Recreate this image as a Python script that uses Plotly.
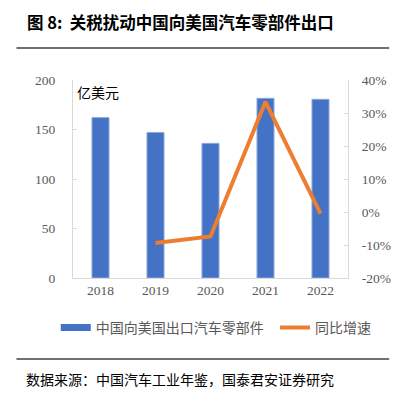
import plotly.graph_objects as go

years = ["2018", "2019", "2020", "2021", "2022"]
export_values = [162, 147, 136, 181.5, 180.5]
growth_years = ["2019", "2020", "2021", "2022"]
growth_pct = [-9.4, -7.4, 33.4, -0.5]

left_ticks = [0, 50, 100, 150, 200]
right_ticks = [-20, -10, 0, 10, 20, 30, 40]
right_labels = ["-20%", "-10%", "0%", "10%", "20%", "30%", "40%"]

BLUE = "#4472C4"
ORANGE = "#ED7D31"
GREY = "#595959"
SERIF = "Liberation Serif, Times New Roman, serif"
CJK = "Noto Sans CJK SC, sans-serif"

# page body has an 8px margin: figure drawn at (8,8)
OFF = 8
W, H = 403 - OFF, 394 - OFF
L, T, R, B = 73, 80, 360, 278  # plot area in window pixels
PW, PH = R - L, B - T


def px(xw):
    return (xw - L) / PW


def py(yw):
    return (B - yw) / PH


fig = go.Figure()
fig.add_trace(go.Bar(x=years, y=export_values, marker=dict(color=BLUE, line=dict(color="#8faadc", width=1)),
                     name="中国向美国出口汽车零部件", showlegend=False))
fig.add_trace(go.Scatter(x=growth_years, y=growth_pct, yaxis="y2", mode="lines",
                         line=dict(color=ORANGE, width=4), name="同比增速", showlegend=False))
# legend proxies
fig.add_trace(go.Scatter(x=[None], y=[None], mode="lines", line=dict(color=BLUE, width=7),
                         name="中国向美国出口汽车零部件\u00a0\u00a0"))
fig.add_trace(go.Scatter(x=[None], y=[None], mode="lines", line=dict(color=ORANGE, width=4),
                         name="同比增速"))

fig.update_layout(
    width=W, height=H,
    margin=dict(l=L - OFF, r=W - (R - OFF), t=T - OFF, b=H - (B - OFF)),
    paper_bgcolor="white", plot_bgcolor="white",
    bargap=0.69,
    xaxis=dict(type="category", showline=True, linecolor="#d9d9d9", linewidth=1,
               ticks="", tickfont=dict(family=SERIF, size=13.5, color=GREY), fixedrange=True),
    yaxis=dict(range=[0, 200], tickvals=left_ticks, showgrid=False, showline=True,
               linecolor="#d9d9d9", ticks="inside", ticklen=4, tickcolor="#d9d9d9",
               ticklabelstandoff=14,
               tickfont=dict(family=SERIF, size=13.5, color=GREY), zeroline=False),
    yaxis2=dict(range=[-20, 40], tickvals=right_ticks, ticktext=right_labels, overlaying="y",
                side="right", showgrid=False, showline=True, linecolor="#d9d9d9",
                ticks="inside", ticklen=4, tickcolor="#d9d9d9", ticklabelstandoff=10,
                tickfont=dict(family=SERIF, size=13.5, color=GREY), zeroline=False),
    legend=dict(orientation="h", x=px(55), y=py(312), xanchor="left", yanchor="top",
                font=dict(family=CJK, size=14, color=GREY), traceorder="normal",
                itemwidth=30),
    showlegend=True,
)

fig.add_annotation(text="亿美元", xref="paper", yref="paper", x=px(75), y=py(80),
                   xanchor="left", yanchor="top", showarrow=False,
                   font=dict(family=CJK, size=14, color="#000000"))
fig.add_annotation(text="<b>图 8:  关税扰动中国向美国汽车零部件出口</b>", xref="paper", yref="paper",
                   x=px(23), y=py(22), xanchor="left", yanchor="middle",
                   showarrow=False, font=dict(family=CJK, size=16.5, color="#000000"))
fig.add_annotation(text="数据来源：中国汽车工业年鉴，国泰君安证券研究", xref="paper", yref="paper",
                   x=px(22), y=py(379), xanchor="left", yanchor="middle",
                   showarrow=False, font=dict(family=CJK, size=14, color="#000000"))
fig.add_shape(type="line", xref="paper", yref="paper", x0=px(14), x1=px(403),
              y0=py(48), y1=py(48), line=dict(color="#404040", width=1.5))
fig.add_shape(type="line", xref="paper", yref="paper", x0=px(14), x1=px(403),
              y0=py(359), y1=py(359), line=dict(color="#404040", width=1.5))

fig.write_html("out.html")
